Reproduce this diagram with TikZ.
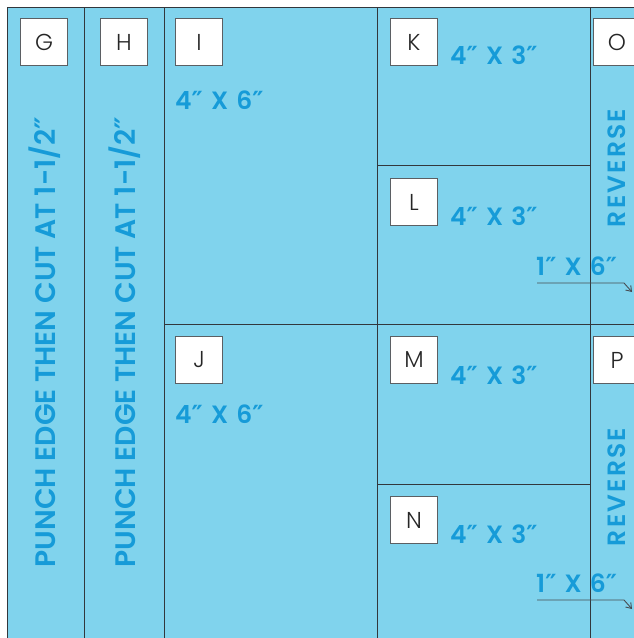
\documentclass[tikz,border=0pt]{standalone}
\usepackage{fontspec}
\setmainfont{Poppins}[BoldFont=* SemiBold]
\newfontfamily\lightfont{Poppins}[UprightFont=* Light]
\newfontfamily\primefont{DejaVu Sans}
\newcommand{\dpr}{{\primefont\bfseries ″}}
\usetikzlibrary{arrows.meta}
\definecolor{panel}{RGB}{128,211,237}
\definecolor{ink}{RGB}{22,155,216}
\definecolor{rule}{RGB}{50,55,60}
\tikzset{
  x=1pt, y=-1pt,
  letterbox/.style={draw=rule!80, fill=white, line width=0.8pt, minimum width=47pt, minimum height=47pt, inner sep=0pt, font=\lightfont\fontsize{23}{23}\selectfont, text=black!85},
  size/.style={text=ink, font=\fontsize{25}{25}\selectfont\bfseries\addfontfeatures{LetterSpace=9}, inner sep=0pt, anchor=west},
  vert/.style={text=ink, font=\fontsize{28.2}{28}\selectfont\bfseries, inner sep=0pt, rotate=90},
  rev/.style={text=ink, font=\fontsize{25}{25}\selectfont\bfseries\addfontfeatures{LetterSpace=9}, inner sep=0pt, text depth=0pt, rotate=90},
  cutline/.style={draw=rule, line width=0.8pt},
  pointer/.style={draw=rule!90, line width=0.9pt, -{Straight Barb[length=5pt,width=7pt]}}
}
\begin{document}
\begin{tikzpicture}
\useasboundingbox (0,0) rectangle (634,638);
\fill[panel] (7,7) rectangle (634,638);
% grid lines
\draw[cutline] (7,638) -- (7,7) -- (634,7);
\draw[cutline] (84,7) -- (84,638);
\draw[cutline] (164,7) -- (164,638);
\draw[cutline] (377,7) -- (377,638);
\draw[cutline] (590,7) -- (590,638);
\draw[cutline] (164,324) -- (634,324);
\draw[cutline] (377,165) -- (590,165);
\draw[cutline] (377,484) -- (590,484);
% letter boxes
\node[letterbox] (G) at (44,42) {G};
\node[letterbox] (H) at (124,42) {H};
\node[letterbox] (I) at (199,42) {I};
\node[letterbox] (K) at (414,42) {K};
\node[letterbox] (L) at (414,202) {L};
\node[letterbox] (J) at (199,360) {J};
\node[letterbox] (M) at (414,360) {M};
\node[letterbox] (N) at (414,520) {N};
\node[letterbox] (O) at (617,42) {O};
\node[letterbox] (P) at (617,360) {P};
% sizes
\node[size] (sI) at (175,100) {4\dpr{} X 6\dpr};
\node[size] (sJ) at (175,414) {4\dpr{} X 6\dpr};
\node[size] (sK) at (450,55) {4\dpr{} X 3\dpr};
\node[size] (sL) at (450,216) {4\dpr{} X 3\dpr};
\node[size] (sM) at (450,375) {4\dpr{} X 3\dpr};
\node[size] (sN) at (450,534) {4\dpr{} X 3\dpr};
\node[size] (s1) at (536,266) {1\dpr{} X 6\dpr};
\node[size] (s2) at (536,583) {1\dpr{} X 6\dpr};
% vertical texts
\node[vert] (vG) at (45,342) {PUNCH EDGE THEN CUT AT 1-1/2\dpr};
\node[vert] (vH) at (125,342) {PUNCH EDGE THEN CUT AT 1-1/2\dpr};
\node[rev] (vO) at (617,168) {REVERSE};
\node[rev] (vP) at (617,487) {REVERSE};
% pointers
\coordinate (a1) at (537,283);
\coordinate (b1) at (624,283);
\coordinate (c1) at (632,292);
\coordinate (a2) at (537,600);
\coordinate (b2) at (624,600);
\coordinate (c2) at (632,609);
\draw[pointer] (a1) -- (b1) -- (c1);
\draw[pointer] (a2) -- (b2) -- (c2);
\end{tikzpicture}
\end{document}
